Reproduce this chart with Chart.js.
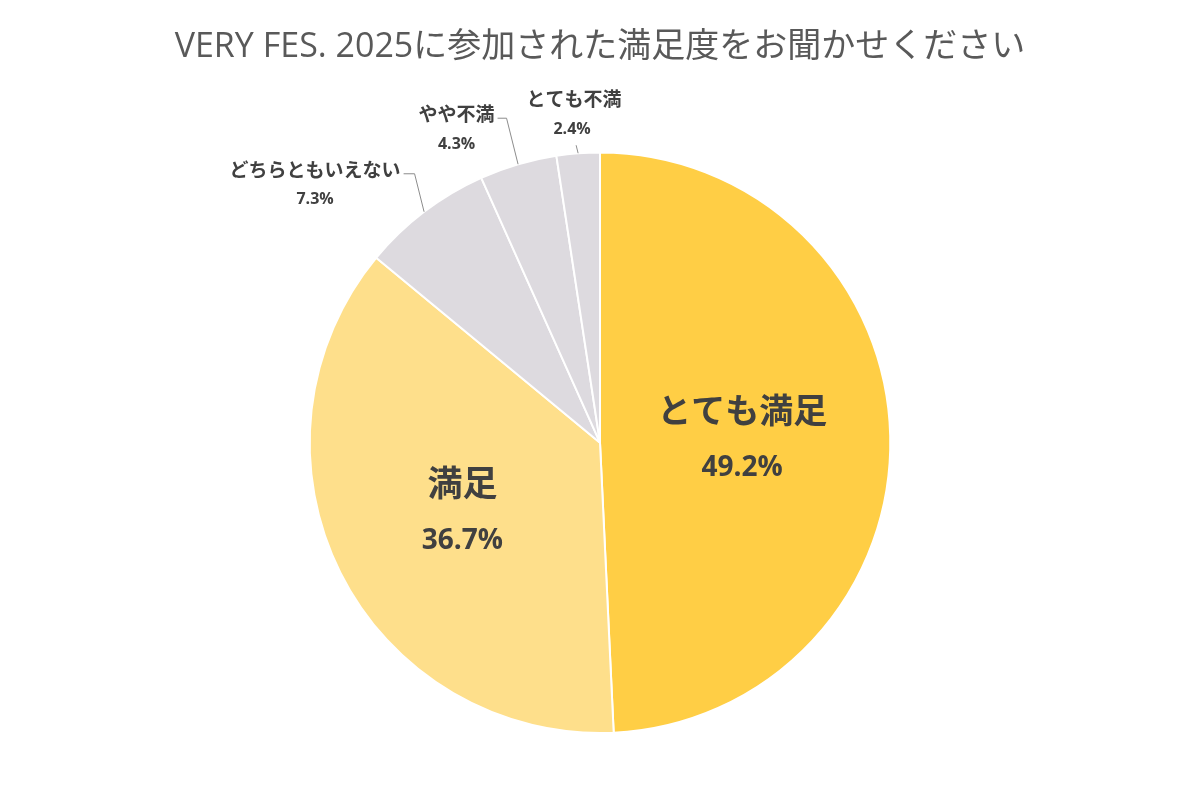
<!DOCTYPE html>
<html>
<head>
<meta charset="utf-8">
<script src="https://cdn.jsdelivr.net/npm/chart.js@4"></script>
<style>
  body { margin: 0; background: #fff; }
  #wrap { width: 1200px; height: 800px; }
</style>
</head>
<body>
<div id="wrap"><canvas id="myChart"></canvas></div>
<script>
// data
var categories = ["とても満足", "満足", "どちらともいえない", "やや不満", "とても不満"];
var shares = [49.2, 36.7, 7.3, 4.3, 2.4];
var sliceColors = ["#FFCE45", "#FEDF8B", "#DDDADF", "#DDDADF", "#DDDADF"];

// where each label sits: inside the slice or outside with a leader line
var labelStyle = [
    { inside: true, dist: 0.49, nameSize: 34, pctSize: 28 },
    { inside: true, dist: 0.53, nameSize: 35, pctSize: 28 },
    { inside: false, rise: 38, run: 11, centered: false },
    { inside: false, rise: 46, run: 9, centered: false },
    { inside: false, rise: 8, run: 0, centered: true }
];

var labelPlugin = {
    id: "sliceLabels",
    afterDatasetsDraw: function (chart) {
        var ctx = chart.ctx;
        var meta = chart.getDatasetMeta(0);
        ctx.save();
        ctx.fillStyle = "#404040";
        ctx.textAlign = "center";
        ctx.textBaseline = "middle";
        meta.data.forEach(function (arc, i) {
            var p = arc.getProps(["x", "y", "startAngle", "endAngle", "outerRadius"], true);
            var mid = (p.startAngle + p.endAngle) / 2;
            var cfg = labelStyle[i];
            var pct = shares[i].toFixed(1) + "%";
            if (cfg.inside) {
                var r = p.outerRadius * cfg.dist;
                var cx = p.x + Math.cos(mid) * r;
                var cy = p.y + Math.sin(mid) * r;
                ctx.font = "bold " + cfg.nameSize + "px 'Noto Sans CJK JP', sans-serif";
                ctx.fillText(categories[i], cx, cy - 29);
                ctx.font = "bold " + cfg.pctSize + "px 'Open Sans', 'Noto Sans CJK JP', sans-serif";
                ctx.fillText(pct, cx, cy + 29);
            } else {
                var ex = p.x + Math.cos(mid) * p.outerRadius;
                var ey = p.y + Math.sin(mid) * p.outerRadius;
                var kx = ex - cfg.rise * 0.25;
                var ky = ey - cfg.rise;
                ctx.strokeStyle = "#8c8c8c";
                ctx.lineWidth = 1;
                ctx.beginPath();
                ctx.moveTo(ex, ey);
                ctx.lineTo(kx, ky);
                if (cfg.run > 0) ctx.lineTo(kx - cfg.run, ky);
                ctx.stroke();
                ctx.font = "bold 19px 'Noto Sans CJK JP', sans-serif";
                var tx, ty;
                if (cfg.centered) {
                    tx = kx - 2;
                    ty = ky - 46;
                } else {
                    var w = ctx.measureText(categories[i]).width;
                    tx = kx - cfg.run - 3 - w / 2;
                    ty = ky - 4;
                }
                ctx.fillText(categories[i], tx, ty);
                ctx.font = "bold 16px 'Open Sans', 'Noto Sans CJK JP', sans-serif";
                ctx.fillText(pct, tx + (cfg.centered ? -2 : 0), ty + 30);
            }
        });
        ctx.restore();
    }
};

var ctx = document.getElementById("myChart").getContext("2d");
var myChart = new Chart(ctx, {
    type: "pie",
    data: {
        labels: categories,
        datasets: [
            {
                data: shares,
                backgroundColor: sliceColors,
                borderColor: "#ffffff",
                borderWidth: 2,
            },
        ],
    },
    options: {
        responsive: true,
        maintainAspectRatio: false,
        animation: false,
        layout: {
            padding: { top: 0, bottom: 66 },
        },
        plugins: {
            legend: { display: false },
            tooltip: { enabled: false },
            title: {
                display: true,
                text: "VERY FES. 2025に参加された満足度をお聞かせください",
                color: "#595959",
                font: {
                    size: 34,
                    weight: "normal",
                    family: "'Open Sans', 'Noto Sans CJK JP', sans-serif",
                },
                padding: { top: 27, bottom: 83.6 },
            },
        },
    },
    plugins: [labelPlugin],
});
</script>
</body>
</html>
